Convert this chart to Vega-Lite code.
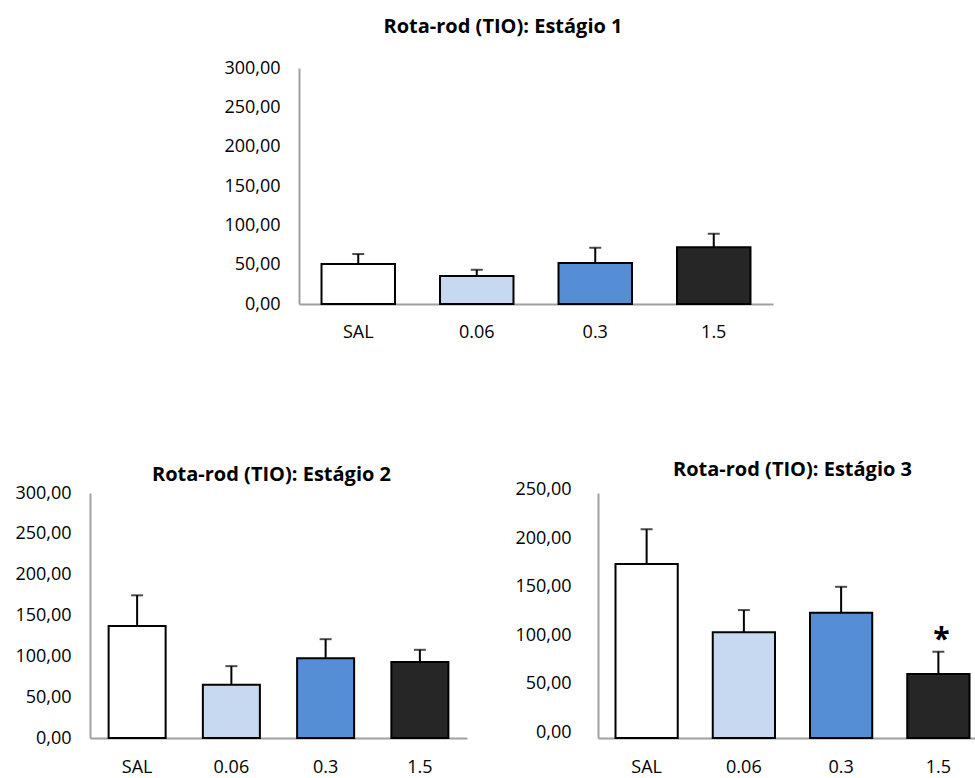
{
  "$schema": "https://vega.github.io/schema/vega-lite/v6.json",
  "background": "white",
  "padding": {"left": 14, "top": 17, "right": 0, "bottom": 0},
  "config": {
    "font": "Open Sans",
    "view": {"stroke": null},
    "title": {"font": "Open Sans", "fontSize": 20, "fontWeight": "bold", "color": "#000000", "anchor": "middle", "frame": "group"},
    "axis": {"labelFont": "Open Sans", "labelFontSize": 18, "labelColor": "#000000", "domainColor": "#A0A0A0", "domainWidth": 2, "ticks": false, "grid": false, "title": null, "labelOverlap": false}
  },
  "spacing": 118,
  "vconcat": [
    {
      "spacing": 20,
      "hconcat": [
        {
          "width": 113,
          "height": 10,
          "data": {"values": [{"a": 1}]},
          "mark": {"type": "text", "text": ""}
        },
        {
          "width": 474,
          "height": 236,
          "title": {"text": "Rota-rod (TIO): Estágio 1", "dx": -33, "offset": 22},
          "data": {"values": [
            {"grupo": "SAL", "media": 51, "erro_sup": 63.5},
            {"grupo": "0.06", "media": 35.5, "erro_sup": 43.5},
            {"grupo": "0.3", "media": 52, "erro_sup": 71.5},
            {"grupo": "1.5", "media": 72, "erro_sup": 89.3}
          ]},
          "encoding": {
            "x": {"field": "grupo", "type": "nominal", "sort": ["SAL", "0.06", "0.3", "1.5"],
                  "scale": {"paddingInner": 0.38, "paddingOuter": 0.19},
                  "axis": {"labelAngle": 0, "labelPadding": 19}}
          },
          "layer": [
            {"mark": {"type": "rule", "color": "#000000", "strokeWidth": 2},
             "encoding": {"y": {"field": "media", "type": "quantitative", "scale": {"domain": [0, 300]},
                                "axis": {"values": [0, 50, 100, 150, 200, 250, 300], "tickCount": 7, "labelOverlap": false, "labelPadding": 19, "labelExpr": "replace(format(datum.value, '.2f'), '.', ',')"}},
                          "y2": {"field": "erro_sup"}}},
            {"mark": {"type": "tick", "color": "#000000", "thickness": 2, "size": 12},
             "encoding": {"y": {"field": "erro_sup", "type": "quantitative"}}},
            {"mark": {"type": "bar", "stroke": "#000000", "strokeWidth": 2},
             "encoding": {"y": {"field": "media", "type": "quantitative"},
                          "color": {"field": "grupo", "type": "nominal", "legend": null,
                                    "scale": {"domain": ["SAL", "0.06", "0.3", "1.5"], "range": ["#FFFFFF", "#C6D9F1", "#558ED5", "#262626"]}}}}
          ]
        }
      ]
    },
    {
      "spacing": 47,
      "hconcat": [
        {
          "width": 377,
          "height": 245,
          "title": {"text": "Rota-rod (TIO): Estágio 2", "dx": -7, "offset": -1},
          "data": {"values": [
            {"grupo": "SAL", "media": 137, "erro_sup": 174.7},
            {"grupo": "0.06", "media": 65.3, "erro_sup": 88},
            {"grupo": "0.3", "media": 97.6, "erro_sup": 121},
            {"grupo": "1.5", "media": 93, "erro_sup": 108}
          ]},
          "encoding": {
            "x": {"field": "grupo", "type": "nominal", "sort": ["SAL", "0.06", "0.3", "1.5"],
                  "scale": {"paddingInner": 0.395, "paddingOuter": 0.1975},
                  "axis": {"labelAngle": 0, "labelPadding": 20}}
          },
          "layer": [
            {"mark": {"type": "rule", "color": "#000000", "strokeWidth": 2},
             "encoding": {"y": {"field": "media", "type": "quantitative", "scale": {"domain": [0, 300]},
                                "axis": {"values": [0, 50, 100, 150, 200, 250, 300], "tickCount": 7, "labelPadding": 19, "labelExpr": "replace(format(datum.value, '.2f'), '.', ',')"}},
                          "y2": {"field": "erro_sup"}}},
            {"mark": {"type": "tick", "color": "#000000", "thickness": 2, "size": 12},
             "encoding": {"y": {"field": "erro_sup", "type": "quantitative"}}},
            {"mark": {"type": "bar", "stroke": "#000000", "strokeWidth": 2},
             "encoding": {"y": {"field": "media", "type": "quantitative"},
                          "color": {"field": "grupo", "type": "nominal", "legend": null,
                                    "scale": {"domain": ["SAL", "0.06", "0.3", "1.5"], "range": ["#FFFFFF", "#C6D9F1", "#558ED5", "#262626"]}}}}
          ]
        },
        {
          "width": 389,
          "height": 245,
          "title": {"text": "Rota-rod (TIO): Estágio 3", "offset": 1},
          "data": {"values": [
            {"grupo": "SAL", "media": 179.6, "erro_sup": 215.4, "sig": ""},
            {"grupo": "0.06", "media": 109, "erro_sup": 132, "sig": ""},
            {"grupo": "0.3", "media": 129.3, "erro_sup": 156, "sig": ""},
            {"grupo": "1.5", "media": 66, "erro_sup": 89, "sig": "*"}
          ]},
          "encoding": {
            "x": {"field": "grupo", "type": "nominal", "sort": ["SAL", "0.06", "0.3", "1.5"],
                  "scale": {"paddingInner": 0.36, "paddingOuter": 0.18},
                  "axis": {"labelAngle": 0, "labelPadding": 20}}
          },
          "layer": [
            {"mark": {"type": "rule", "color": "#000000", "strokeWidth": 2},
             "encoding": {"y": {"field": "media", "type": "quantitative", "scale": {"domain": [0, 252.8], "nice": false},
                                "axis": {"values": [0, 50, 100, 150, 200, 250], "tickCount": 6, "labelPadding": 27, "labelOffset": -6, "labelExpr": "replace(format(datum.value, '.2f'), '.', ',')"}},
                          "y2": {"field": "erro_sup"}}},
            {"mark": {"type": "tick", "color": "#000000", "thickness": 2, "size": 12},
             "encoding": {"y": {"field": "erro_sup", "type": "quantitative"}}},
            {"mark": {"type": "bar", "stroke": "#000000", "strokeWidth": 2},
             "encoding": {"y": {"field": "media", "type": "quantitative"},
                          "color": {"field": "grupo", "type": "nominal", "legend": null,
                                    "scale": {"domain": ["SAL", "0.06", "0.3", "1.5"], "range": ["#FFFFFF", "#C6D9F1", "#558ED5", "#262626"]}}}},
            {"mark": {"type": "text", "fontSize": 30, "fontWeight": "bold", "color": "#000000", "baseline": "alphabetic", "dy": -3, "dx": 3},
             "encoding": {"y": {"field": "erro_sup", "type": "quantitative"}, "text": {"field": "sig"}}}
          ]
        }
      ]
    }
  ]
}
